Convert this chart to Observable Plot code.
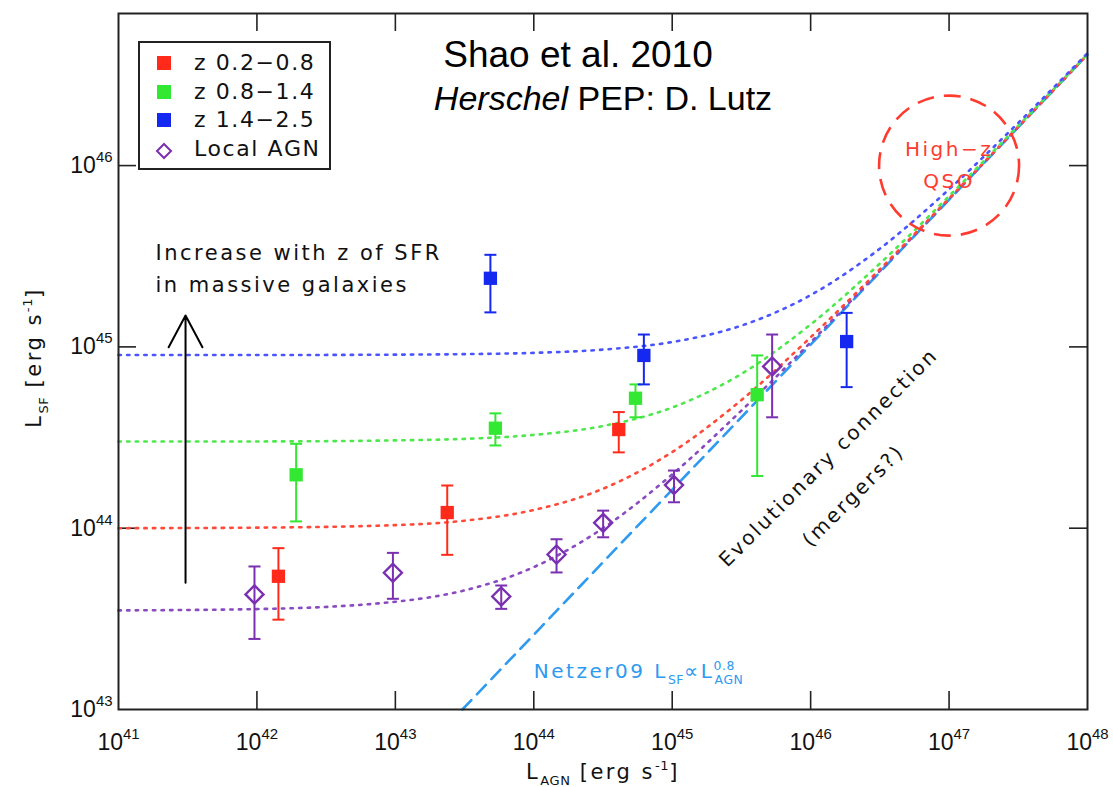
<!DOCTYPE html>
<html><head><meta charset="utf-8">
<script src="https://cdn.jsdelivr.net/npm/d3@7"></script>
<script src="https://cdn.jsdelivr.net/npm/@observablehq/plot@0.6"></script>
<style>
html,body{margin:0;padding:0;background:#fff;}
#wrap{position:relative;width:1113px;height:787px;overflow:hidden;background:#fff;}
#wrap svg{position:absolute;left:0;top:0;}
.title{position:absolute;width:600px;text-align:center;font-family:"Liberation Sans",Arial,sans-serif;color:#000;white-space:nowrap;}
#legend{position:absolute;left:138px;top:41px;width:189px;height:125px;border:2px solid #222;background:#fff;font-family:"DejaVu Sans",sans-serif;font-size:22px;letter-spacing:1.6px;color:#111;}
#legend .sw{position:absolute;}
#legend .lab{position:absolute;left:54px;height:28px;line-height:28px;white-space:nowrap;}
</style></head>
<body>
<div id="wrap">
  <div class="title" style="left:278px;top:36px;font-size:37px;line-height:37px;">Shao et al. 2010</div>
  <div class="title" style="left:303px;top:81px;font-size:34px;line-height:34px;"><i>Herschel</i> PEP: D. Lutz</div>
</div>
<script>
// ---- axis ticks ----
const xTicks = [1e41, 1e42, 1e43, 1e44, 1e45, 1e46, 1e47, 1e48];
const yTicks = [1e43, 1e44, 1e45, 1e46];

// ---- legend ----
const seriesNames = ["z 0.2\u22120.8", "z 0.8\u22121.4", "z 1.4\u22122.5", "Local AGN"];
const seriesColors = ["#ff2a1a", "#33e833", "#1428f0", "#7a30b0"];
const curveColors = ["#ff4a3a", "#4ee84e", "#4a55ff", "#8a4ac0"];

// ---- data points: L_AGN, L_SF, lower and upper error ----
const redAGN = [1.43e42, 2.37e43, 4.11e44];
const redSF  = [5.43e43, 1.22e44, 3.50e44];
const redLo  = [3.13e43, 7.13e43, 2.62e44];
const redHi  = [7.76e43, 1.72e44, 4.37e44];

const greenAGN = [1.92e42, 5.28e43, 5.43e44, 4.11e45];
const greenSF  = [1.97e44, 3.56e44, 5.21e44, 5.45e44];
const greenLo  = [1.09e44, 2.86e44, 4.09e44, 1.94e44];
const greenHi  = [2.92e44, 4.30e44, 6.21e44, 8.97e44];

const blueAGN = [4.86e43, 6.24e44, 1.82e46];
const blueSF  = [2.39e45, 8.97e44, 1.07e45];
const blueLo  = [1.55e45, 6.21e44, 6.00e44];
const blueHi  = [3.22e45, 1.17e45, 1.54e45];

const localAGN = [9.6e41, 9.6e42, 5.82e43, 1.46e44, 3.17e44, 1.03e45, 5.27e45];
const localSF  = [4.31e43, 5.68e43, 4.20e43, 7.16e43, 1.07e44, 1.73e44, 7.80e44];
const localLo  = [2.45e43, 4.08e43, 3.59e43, 5.70e43, 8.91e43, 1.39e44, 4.09e44];
const localHi  = [6.15e43, 7.31e43, 4.83e43, 8.69e43, 1.25e44, 2.08e44, 1.17e45];

// ---- dotted model curves, read at half-decade steps ----
const curveAGN    = [1e41, 1e42, 1e43, 3.16e43, 1e44, 3.16e44, 1e45, 3.16e45, 1e46, 3.16e46, 1e47, 3.16e47, 1e48];
const redCurve    = [1.0e44, 1.007e44, 1.04e44, 1.10e44, 1.26e44, 1.65e44, 2.63e44, 5.09e44, 1.13e45, 2.68e45, 6.59e45, 1.64e46, 4.10e46];
const greenCurve  = [3.01e44, 3.01e44, 3.05e44, 3.11e44, 3.27e44, 3.66e44, 4.63e44, 7.10e44, 1.33e45, 2.88e45, 6.79e45, 1.66e46, 4.11e46];
const blueCurve   = [9.02e44, 9.02e44, 9.06e44, 9.12e44, 9.27e44, 9.66e44, 1.064e45, 1.31e45, 1.93e45, 3.48e45, 7.40e45, 1.72e46, 4.17e46];
const localCurve  = [3.52e43, 3.58e43, 3.93e43, 4.54e43, 6.10e43, 1.0e44, 1.98e44, 4.45e44, 1.06e45, 2.62e45, 6.53e45, 1.63e46, 4.09e46];

// ---- Netzer09 relation (dashed) ----
const netzerAGN = [3.05e43, 1e48];
const netzerSF  = [1e43, 4.09e46];

// ---- annotations ----
const arrowAGN = [3.05e41];
const arrowSF  = [5.0e43, 1.49e45];
const qsoAGN = [1e47];
const qsoSF  = [1e46];
const qsoLabel = "High\u2212z\nQSO";
const increaseLabel = "Increase with z of SFR\nin massive galaxies";
const increasePos = [1.85e41, 2.81e45];
const evoLabels = ["Evolutionary connection", "(mergers?)"];
const evoAGN = [1.35e46, 2.04e46];
const evoSF  = [2.45e44, 1.51e44];
const netzerLabel = "Netzer09 L_{SF}\u221DL_{AGN}^{0.8}";
const netzerLabelPos = [1.0e44, 1.62e43];
const xLabel = "L_{AGN} [erg s^{-1}]";
const yLabel = "L_{SF} [erg s^{-1}]";

// ---- build tables ----
const zip = (X, Y, Lo, Hi) => X.map((x, i) => ({x, y: Y[i], lo: Lo[i], hi: Hi[i]}));
const series = [
  zip(redAGN, redSF, redLo, redHi),
  zip(greenAGN, greenSF, greenLo, greenHi),
  zip(blueAGN, blueSF, blueLo, blueHi),
  zip(localAGN, localSF, localLo, localHi)
];
const curves = [redCurve, greenCurve, blueCurve, localCurve].map(c => curveAGN.map((x, i) => ({x, y: c[i]})));
const netzer = netzerAGN.map((x, i) => ({x, y: netzerSF[i]}));

const capSymbol = {draw(ctx, size) { const r = Math.sqrt(size / Math.PI); ctx.moveTo(-r, 0); ctx.lineTo(r, 0); }};
const diamondSymbol = {draw(ctx, size) { const r = Math.sqrt(size / Math.PI); ctx.moveTo(0, -r); ctx.lineTo(r, 0); ctx.lineTo(0, r); ctx.lineTo(-r, 0); ctx.closePath(); }};

const annFont = "DejaVu Sans";
const marks = [];
// inward ticks on all four sides
marks.push(Plot.ruleX(xTicks.slice(1, -1), {x: d => d, insetTop: 678, stroke: "#222", strokeWidth: 1.6}));
marks.push(Plot.ruleX(xTicks.slice(1, -1), {x: d => d, insetBottom: 678, stroke: "#222", strokeWidth: 1.6}));
marks.push(Plot.ruleY(yTicks.slice(1), {y: d => d, insetRight: 951, stroke: "#222", strokeWidth: 1.6}));
marks.push(Plot.ruleY(yTicks.slice(1), {y: d => d, insetLeft: 951, stroke: "#222", strokeWidth: 1.6}));

// Netzer dashed line
marks.push(Plot.line(netzer, {x: "x", y: "y", stroke: "#2e9af0", strokeWidth: 2.6, strokeDasharray: "13,8"}));
// dotted curves (local, red, green, blue order)
[3, 0, 1, 2].forEach(k => {
  marks.push(Plot.line(curves[k], {x: "x", y: "y", curve: "monotone-x", stroke: curveColors[k], strokeWidth: 2.6, strokeDasharray: "2.4,6.2"}));
});
// High-z QSO circle
marks.push(Plot.dot(qsoAGN.map((x, i) => ({x, y: qsoSF[i]})), {x: "x", y: "y", r: 70, fill: "none", stroke: "#ff3b30", strokeWidth: 2.6, strokeDasharray: "17,10"}));
// error bars & markers
series.forEach((data, k) => {
  const c = seriesColors[k];
  marks.push(Plot.ruleX(data, {x: "x", y1: "lo", y2: "hi", stroke: c, strokeWidth: 2}));
  marks.push(Plot.dot(data, {x: "x", y: "lo", symbol: capSymbol, r: 6, fill: "none", stroke: c, strokeWidth: 2}));
  marks.push(Plot.dot(data, {x: "x", y: "hi", symbol: capSymbol, r: 6, fill: "none", stroke: c, strokeWidth: 2}));
  if (k < 3) marks.push(Plot.dot(data, {x: "x", y: "y", symbol: "square", r: 7.5, fill: c, stroke: "none"}));
  else marks.push(Plot.dot(data, {x: "x", y: "y", symbol: diamondSymbol, r: 9, fill: "none", stroke: c, strokeWidth: 2.4}));
});
// arrow
marks.push(Plot.arrow([{x: arrowAGN[0], y1: arrowSF[0], y2: arrowSF[1]}], {x1: "x", x2: "x", y1: "y1", y2: "y2", stroke: "#000", strokeWidth: 2, headLength: 27, headAngle: 56}));
// annotation texts
marks.push(Plot.text([qsoLabel], {x: () => qsoAGN[0], y: () => qsoSF[0], dy: -4, text: d => d, fill: "#ff3b30", fontSize: 20, fontFamily: annFont, lineHeight: 1.6}));
marks.push(Plot.text([increaseLabel], {x: () => increasePos[0], y: () => increasePos[1], text: d => d, textAnchor: "start", fill: "#111", fontSize: 21, fontFamily: annFont, lineHeight: 1.55}));
marks.push(Plot.text(evoLabels.map((t, i) => ({t, x: evoAGN[i], y: evoSF[i]})), {x: "x", y: "y", text: "t", rotate: -45, fill: "#111", fontSize: 20, fontFamily: annFont}));
marks.push(Plot.text([netzerLabel], {x: () => netzerLabelPos[0], y: () => netzerLabelPos[1], text: d => d, textAnchor: "start", fill: "#2e9af0", fontSize: 20, fontFamily: annFont}));
// axis labels
marks.push(Plot.text([xLabel], {frameAnchor: "bottom", dy: 69, textAnchor: "middle", text: d => d, fill: "#111", fontSize: 21, fontFamily: annFont}));
marks.push(Plot.text([yLabel], {frameAnchor: "left", dx: -84, dy: -4, rotate: -90, textAnchor: "middle", text: d => d, fill: "#111", fontSize: 21, fontFamily: annFont}));
// axes
const fmt = d => "10^{" + Math.round(Math.log10(d)) + "}";
marks.push(Plot.axisX(xTicks, {anchor: "bottom", tickSize: 0, tickPadding: 24, tickFormat: fmt, fontSize: 23, fontFamily: "Liberation Sans", fill: "#111", label: null}));
marks.push(Plot.axisY(yTicks, {anchor: "left", tickSize: 0, tickPadding: 6, tickFormat: fmt, fontSize: 23, fontFamily: "Liberation Sans", fill: "#111", label: null}));
marks.push(Plot.frame({stroke: "#222", strokeWidth: 2}));

const chart = Plot.plot({
  width: 1113, height: 787,
  marginLeft: 118, marginRight: 26, marginTop: 13, marginBottom: 78,
  x: {type: "log", domain: [1e41, 1e48]},
  y: {type: "log", domain: [1e43, 6.9e46]},
  style: {background: "white"},
  marks
});
const wrap = document.getElementById("wrap");
wrap.insertBefore(chart, wrap.firstChild);

// wide letter spacing for the plot annotations (mimics the original plotting font)
chart.querySelectorAll("text").forEach(t => {
  const ff = getComputedStyle(t).fontFamily || "";
  if (ff.indexOf("DejaVu") >= 0) {
    t.setAttribute("letter-spacing", "2.5");
    t.style.letterSpacing = "2.5px";
  }
});

// rich text: _{sub} and ^{sup}, superscript after subscript is stacked
function richify(el) {
  const s = el.textContent;
  if (!/[_^]\{/.test(s)) return;
  const base = parseFloat(getComputedStyle(el).fontSize) || 16;
  const isTick = /^10\^\{/.test(s);
  const scale = isTick ? 0.65 : 0.62;
  const supShift = isTick ? 0.47 : 0.42;
  const subShift = 0.32;
  const segs = [];
  const re = /([_^])\{([^}]*)\}/g;
  let last = 0, m;
  while ((m = re.exec(s))) {
    if (m.index > last) segs.push({t: s.slice(last, m.index), k: "n"});
    segs.push({t: m[2], k: m[1] === "_" ? "sub" : "sup"});
    last = re.lastIndex;
  }
  if (last < s.length) segs.push({t: s.slice(last), k: "n"});
  while (el.firstChild) el.removeChild(el.firstChild);
  const ns = "http://www.w3.org/2000/svg";
  let cur = 0, prevSub = null;
  segs.forEach(g => {
    const ts = document.createElementNS(ns, "tspan");
    const target = g.k === "sup" ? -supShift * base : g.k === "sub" ? subShift * base : 0;
    if (target - cur !== 0) ts.setAttribute("dy", target - cur);
    cur = target;
    if (g.k !== "n") {
      ts.setAttribute("font-size", scale * base);
      if (!isTick) ts.style.letterSpacing = "0.6px";
    }
    ts.textContent = g.t;
    el.appendChild(ts);
    if (g.k === "sup" && prevSub) ts.setAttribute("dx", -prevSub.getComputedTextLength() - 1);
    prevSub = g.k === "sub" ? ts : null;
  });
}
chart.querySelectorAll("text").forEach(richify);

// legend
const legend = document.createElement("div");
legend.id = "legend";
const rowCenters = [20, 48.5, 77, 105.5];
seriesNames.forEach((name, i) => {
  const cy = rowCenters[i];
  const sw = document.createElement("div");
  sw.className = "sw";
  if (i < 3) {
    sw.style.cssText = `left:17px;top:${cy - 7}px;width:14px;height:14px;background:${seriesColors[i]};`;
  } else {
    sw.style.cssText = `left:15px;top:${cy - 9}px;width:18px;height:18px;`;
    sw.innerHTML = `<svg width="18" height="18" style="position:static"><path d="M9,2L16,9L9,16L2,9Z" fill="none" stroke="${seriesColors[i]}" stroke-width="2"/></svg>`;
  }
  legend.appendChild(sw);
  const lab = document.createElement("div");
  lab.className = "lab";
  lab.style.top = (cy - 14) + "px";
  lab.textContent = name;
  legend.appendChild(lab);
});
wrap.appendChild(legend);
</script>
</body></html>
